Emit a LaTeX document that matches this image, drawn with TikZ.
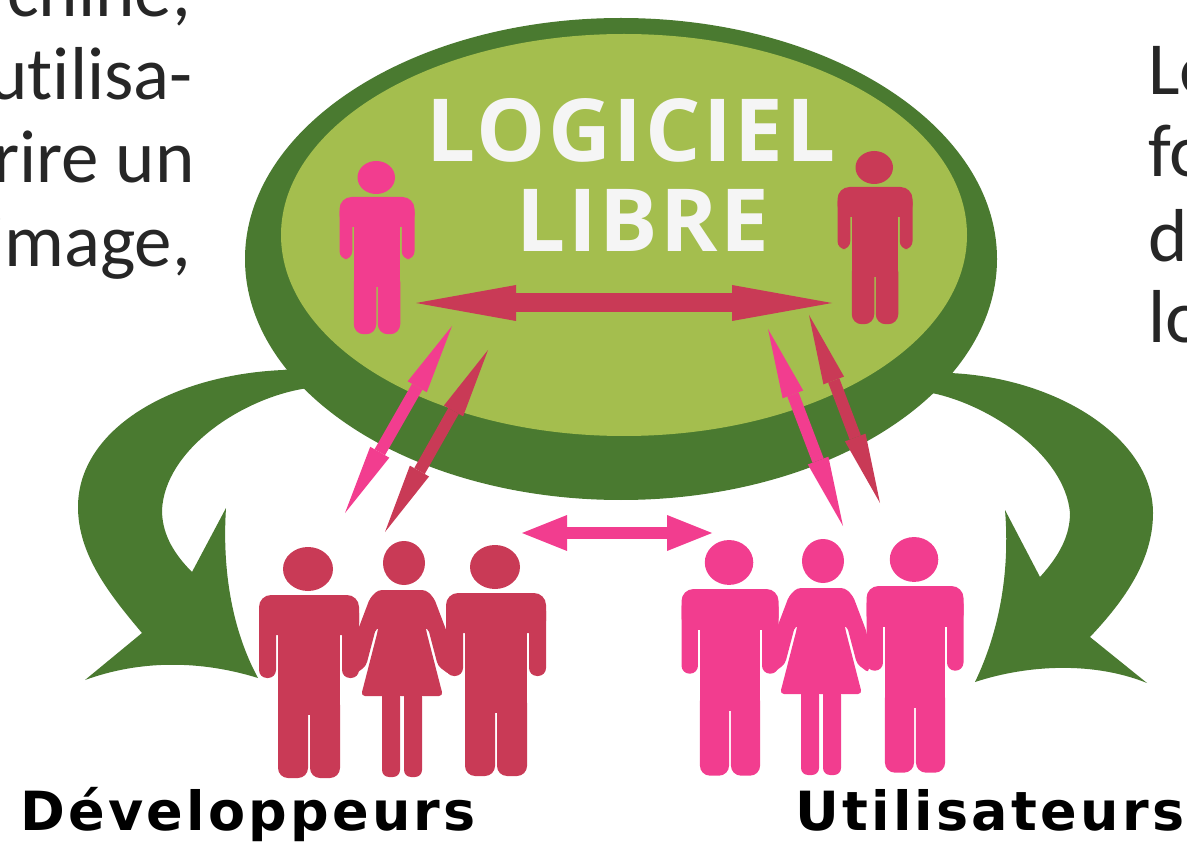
\documentclass[tikz,border=0pt]{standalone}
\usepackage{fontspec}
\setmainfont[Ligatures=NoCommon]{Carlito}
\newfontfamily\titlefont[LetterSpace=3]{Open Sans}
\newfontfamily\labelfont[LetterSpace=6]{DejaVu Sans}
\usetikzlibrary{arrows.meta}
\definecolor{darkgreen}{HTML}{4A7A30}
\definecolor{lightgreen}{HTML}{A4BE4E}
\definecolor{hotpink}{HTML}{F23D8F}
\definecolor{crimson}{HTML}{C93A56}
\tikzset{
  sidetext/.style={text=black!85,font=\fontsize{75}{75}\selectfont,inner sep=0pt},
  titletext/.style={text=white!96!black,font=\titlefont\bfseries\fontsize{87}{87}\selectfont,inner sep=0pt},
  grouptext/.style={text=black,font=\labelfont\bfseries\fontsize{54}{54}\selectfont,inner sep=0pt},
  longarrow/.style={line width=12pt,{Triangle[length=70pt,width=22pt,line width=0pt]}-{Triangle[length=70pt,width=22pt,line width=0pt]}},
  wideleftright/.style={line width=19pt,{Triangle[length=100pt,width=36pt,line width=0pt]}-{Triangle[length=100pt,width=36pt,line width=0pt]}},
  shortleftright/.style={line width=12pt,{Triangle[length=45pt,width=36pt,line width=0pt]}-{Triangle[length=45pt,width=36pt,line width=0pt]}},
  manfig/.pic={
    \fill (-1,-26) ellipse [x radius=25,y radius=22];
    \fill[rounded corners=12pt] (-50,0) rectangle (50,40);
    \fill[rounded corners=8pt] (-50,10) rectangle (-33,83);
    \fill[rounded corners=8pt] (33,10) rectangle (50,83);
    \fill (-31,5) rectangle (31,120);
    \fill[rounded corners=10pt] (-31,100) rectangle (-1,183);
    \fill[rounded corners=10pt] (1,100) rectangle (31,183);
  },
  womanfig/.pic={
    \fill (2,-27) ellipse [x radius=21,y radius=22];
    \fill[rounded corners=4pt] (-22,0) -- (22,0) -- (24,40) -- (41,106) -- (-41,106) -- (-24,40) -- cycle;
    \fill[rounded corners=4pt] (-10,0) -- (-24,0) -- (-32,8) -- (-46,45) -- (-48,85) -- (-36,76) -- (-26,38) -- (-10,38) -- cycle;
    \fill[rounded corners=4pt] (10,0) -- (24,0) -- (32,8) -- (46,45) -- (48,85) -- (36,76) -- (26,38) -- (10,38) -- cycle;
    \fill[rounded corners=7pt] (-20,100) rectangle (-2,187);
    \fill[rounded corners=7pt] (2,100) rectangle (20,187);
  }
}
\begin{document}
\begin{tikzpicture}[x=1pt,y=-1pt]
\useasboundingbox (0,0) rectangle (1187,842);
\clip (0,0) rectangle (1187,842);
% big curved arrows
\fill[darkgreen] (330,385) -- (300,368) -- (283,370) .. controls (170,375) and (78,430) .. (78,507)
  .. controls (78,555) and (110,595) .. (142,633) -- (85,680)
  .. controls (140,660) and (200,660) .. (258,678)
  .. controls (232,630) and (222,570) .. (226,508) -- (192,572)
  .. controls (170,550) and (162,530) .. (162,510)
  .. controls (165,450) and (240,400) .. (302,389) -- cycle;
\fill[darkgreen] (900,385) -- (930,368) -- (950,373) .. controls (1060,378) and (1153,440) .. (1153,513)
  .. controls (1153,560) and (1125,600) .. (1090,637) -- (1147,683)
  .. controls (1095,662) and (1030,664) .. (975,682)
  .. controls (1000,630) and (1010,570) .. (1005,510) -- (1040,577)
  .. controls (1060,555) and (1070,535) .. (1070,513)
  .. controls (1065,455) and (990,405) .. (932,393) -- cycle;
% oval
\fill[darkgreen] (621,259) ellipse [x radius=376,y radius=241];
\fill[lightgreen] (624,235) ellipse [x radius=343,y radius=201];
\node[titletext] (logiciel) at (631,130) {LOGICIEL};
\node[titletext] (libre) at (643,220) {LIBRE};
% people
\pic[fill=hotpink,scale=.75] (topleft) at (377,197) {manfig};
\pic[fill=crimson,scale=.75] (topright) at (875,187) {manfig};
\pic[fill=crimson] (dev1) at (309,595) {manfig};
\pic[fill=crimson] (dev2) at (402,590) {womanfig};
\pic[fill=crimson] (dev3) at (496,593) {manfig};
\pic[fill=hotpink,xscale=.97,yscale=1.02] (user1) at (730,589) {manfig};
\pic[fill=hotpink] (user2) at (821,588) {womanfig};
\pic[fill=hotpink,xscale=.97,yscale=1.02] (user3) at (915,586) {manfig};
% arrows
\coordinate (wl) at (416,303);
\coordinate (wr) at (832,303);
\coordinate (pl1) at (345,513);
\coordinate (pl2) at (452,326);
\coordinate (rl1) at (385,532);
\coordinate (rl2) at (488,350);
\coordinate (pr1) at (843,526);
\coordinate (pr2) at (768,329);
\coordinate (rr1) at (880,503);
\coordinate (rr2) at (809,315);
\coordinate (ml) at (522,533);
\coordinate (mr) at (712,533);
\draw[crimson,wideleftright] (wl) -- (wr);
\draw[hotpink,longarrow] (pl1) -- (pl2);
\draw[crimson,longarrow] (rl1) -- (rl2);
\draw[hotpink,longarrow] (pr1) -- (pr2);
\draw[crimson,longarrow] (rr1) -- (rr2);
\draw[hotpink,shortleftright] (ml) -- (mr);
% text round the picture
\node[sidetext,anchor=base east] (line1) at (191,17) {chine,};
\node[sidetext,anchor=base east] (line2) at (193,100) {utilisa-};
\node[sidetext,anchor=base east] (line3) at (195,183) {rire un};
\node[sidetext,anchor=base east] (line4) at (191,267) {image,};
\node[sidetext,anchor=base west] (right1) at (1148,95) {Le};
\node[sidetext,anchor=base west] (right2) at (1148,177) {fo};
\node[sidetext,anchor=base west] (right3) at (1148,262) {de};
\node[sidetext,anchor=base west] (right4) at (1148,343) {lo};
\node[grouptext,anchor=base west] (dev) at (20,830) {Développeurs};
\node[grouptext,anchor=base west] (user) at (795,830) {Utilisateurs};
\end{tikzpicture}
\end{document}
